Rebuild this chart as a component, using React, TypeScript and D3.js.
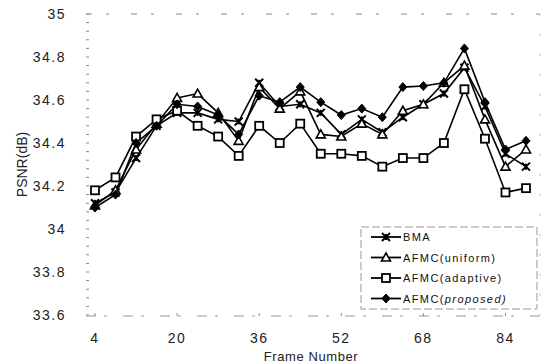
import React from "react";
import * as d3 from "d3";

// frame numbers (every 4th frame)
const frames = [4, 8, 12, 16, 20, 24, 28, 32, 36, 40, 44, 48, 52, 56, 60, 64, 68, 72, 76, 80, 84, 88];

const bma = [34.12, 34.17, 34.33, 34.48, 34.54, 34.54, 34.51, 34.5, 34.68, 34.57, 34.58, 34.54, 34.44, 34.51, 34.45, 34.52, 34.58, 34.63, 34.75, 34.57, 34.35, 34.29];
const uniform = [34.11, 34.18, 34.37, 34.49, 34.61, 34.63, 34.54, 34.41, 34.66, 34.56, 34.64, 34.44, 34.43, 34.49, 34.44, 34.55, 34.58, 34.68, 34.76, 34.51, 34.29, 34.37];
const adaptive = [34.18, 34.24, 34.43, 34.51, 34.55, 34.48, 34.43, 34.34, 34.48, 34.4, 34.49, 34.35, 34.35, 34.34, 34.29, 34.33, 34.33, 34.4, 34.65, 34.42, 34.17, 34.19];
const proposed = [34.1, 34.16, 34.4, 34.48, 34.58, 34.57, 34.53, 34.44, 34.62, 34.59, 34.66, 34.59, 34.53, 34.56, 34.52, 34.66, 34.665, 34.68, 34.84, 34.59, 34.37, 34.41];

const yTicks = [33.6, 33.8, 34, 34.2, 34.4, 34.6, 34.8, 35];
const xTicks = [4, 20, 36, 52, 68, 84];

const seriesNames = ["BMA", "AFMC(uniform)", "AFMC(adaptive)", "AFMC(proposed)"];
const seriesData = [bma, uniform, adaptive, proposed];
const markers = ["x", "tri", "sq", "dia"];

const W = 546;
const H = 363;
const font = "Arial, 'Liberation Sans', Helvetica, sans-serif";

function Marker({ type, x, y }: { type: string; x: number; y: number }) {
  if (type === "x") {
    return (
      <g stroke="#000" strokeWidth={2}>
        <line x1={x - 4} y1={y - 4} x2={x + 4} y2={y + 4} />
        <line x1={x - 4} y1={y + 4} x2={x + 4} y2={y - 4} />
        <line x1={x} y1={y - 3} x2={x} y2={y + 3} />
      </g>
    );
  }
  if (type === "tri") {
    return (
      <path
        d={`M${x},${y - 4.5}L${x + 4.5},${y + 3.5}L${x - 4.5},${y + 3.5}Z`}
        fill="#fff"
        stroke="#000"
        strokeWidth={1.6}
      />
    );
  }
  if (type === "sq") {
    return <rect x={x - 4} y={y - 4} width={8} height={8} fill="#fff" stroke="#000" strokeWidth={1.8} />;
  }
  return <path d={`M${x},${y - 4.5}L${x + 4},${y}L${x},${y + 4.5}L${x - 4},${y}Z`} fill="#000" stroke="#000" strokeWidth={1} />;
}

export default function App() {
  const x = d3.scaleLinear().domain([4, 88]).range([95, 526]);
  const y = d3.scaleLinear().domain([33.6, 35]).range([315, 14]);
  const line = d3
    .line<number>()
    .x((_, i) => x(frames[i]))
    .y((d) => y(d));

  const minor = d3.range(33.6, 35.0001, 0.04);
  const left = 86;
  const right = 540;

  return (
    <svg width={W} height={H} style={{ position: "absolute", left: 0, top: 0, background: "#fff" }}>
      {/* frame (faint, broken as in the scan) */}
      <line x1={left} y1={y(35)} x2={right} y2={y(35)} stroke="#888" strokeWidth={1} strokeDasharray="6 14 3 22" />
      <line x1={left} y1={y(33.6) + 1} x2={right} y2={y(33.6) + 1} stroke="#999" strokeWidth={1} strokeDasharray="10 8 3 16" />
      <line x1={right} y1={y(35)} x2={right} y2={y(33.6)} stroke="#bbb" strokeWidth={1} strokeDasharray="2 18" />
      {minor.map((v, i) => (
        <line key={i} x1={left} x2={left + 3} y1={y(v)} y2={y(v)} stroke="#888" strokeWidth={1} />
      ))}
      {yTicks.map((v) => (
        <text key={v} x={66} y={y(v) + 5} textAnchor="end" fontFamily={font} fontSize={14} letterSpacing={1.5} fill="#222">
          {d3.format("")(v)}
        </text>
      ))}
      {xTicks.map((v) => (
        <g key={v}>
          <line x1={x(v)} x2={x(v)} y1={y(33.6) + 1} y2={y(33.6) - 2} stroke="#888" />
          <text x={x(v)} y={343} textAnchor="middle" fontFamily={font} fontSize={14} letterSpacing={1.5} fill="#222">
            {v}
          </text>
        </g>
      ))}
      <text
        transform={`translate(27,${y(34.3)}) rotate(-90)`}
        textAnchor="middle"
        fontFamily={font}
        fontSize={14}
        fill="#222"
      >
        PSNR(dB)
      </text>
      <text x={311} y={361} textAnchor="middle" fontFamily={font} fontSize={13} letterSpacing={0.6} fill="#222">
        Frame Number
      </text>

      {seriesData.map((s, si) => (
        <g key={si}>
          <path d={line(s) || ""} fill="none" stroke="#000" strokeWidth={1.6} />
          {s.map((v, i) => (
            <Marker key={i} type={markers[si]} x={x(frames[i])} y={y(v)} />
          ))}
        </g>
      ))}

      {/* legend */}
      <rect x={361} y={227} width={176} height={82} fill="#fff" stroke="#999" strokeWidth={1} strokeDasharray="8 3" />
      {seriesNames.map((n, i) => {
        const ly = 237 + i * 20.5;
        const open = n.indexOf("(");
        return (
          <g key={n}>
            <line x1={371} x2={401} y1={ly} y2={ly} stroke="#000" strokeWidth={1.8} />
            <Marker type={markers[i]} x={386} y={ly} />
            <text x={403} y={ly + 4} fontFamily={font} fontSize={11} letterSpacing={1.4} fill="#111">
              {open < 0 ? (
                n
              ) : (
                <>
                  {n.slice(0, open + 1)}
                  <tspan fontStyle={i === 3 ? "italic" : "normal"}>{n.slice(open + 1)}</tspan>
                </>
              )}
            </text>
          </g>
        );
      })}
    </svg>
  );
}
